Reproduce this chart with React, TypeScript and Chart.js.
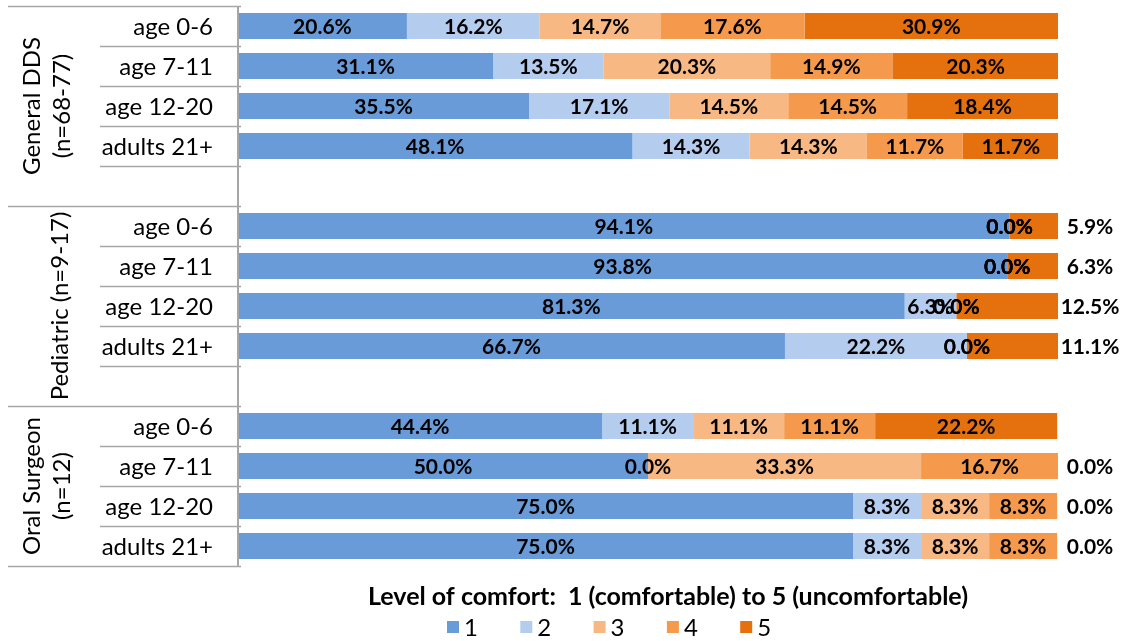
import React, { useEffect, useRef } from "react";
import { Chart, registerables } from "chart.js";

Chart.register(...registerables);

// ---------- data ----------
const categories = [
  "age 0-6", "age 7-11", "age 12-20", "adults 21+", "",
  "age 0-6", "age 7-11", "age 12-20", "adults 21+", "",
  "age 0-6", "age 7-11", "age 12-20", "adults 21+",
];
const groupLabels = [["General DDS", "(n=68-77)"], ["Pediatric (n=9-17)"], ["Oral Surgeon", "(n=12)"]];
const groupSizes = [5, 5, 4];
const seriesNames = ["1", "2", "3", "4", "5"];
const level1 = [20.6, 31.1, 35.5, 48.1, null, 94.1, 93.8, 81.3, 66.7, null, 44.4, 50.0, 75.0, 75.0];
const level2 = [16.2, 13.5, 17.1, 14.3, null, 0.0, 0.0, 6.3, 22.2, null, 11.1, 0.0, 8.3, 8.3];
const level3 = [14.7, 20.3, 14.5, 14.3, null, 0.0, 0.0, 0.0, 0.0, null, 11.1, 33.3, 8.3, 8.3];
const level4 = [17.6, 14.9, 14.5, 11.7, null, 0.0, 0.0, 0.0, 0.0, null, 11.1, 16.7, 8.3, 8.3];
const level5 = [30.9, 20.3, 18.4, 11.7, null, 5.9, 6.3, 12.5, 11.1, null, 22.2, 0.0, 0.0, 0.0];
// rows whose level-5 label sits to the right of the bar
const outsideLabelRows = [5, 6, 7, 8, 11, 12, 13];
const legendTitle = "Level of comfort:  1 (comfortable) to 5 (uncomfortable)";

// ---------- style ----------
const colors = ["#6A9BD9", "#B4CDEE", "#F8B884", "#F59A4C", "#E4700E"];
const FONT = "Lato, 'Noto Sans', sans-serif";
const lineColor = "#A6A6A6";

const valueLabelPlugin = {
  id: "valueLabels",
  afterDatasetsDraw(chart: any) {
    const ctx = chart.ctx;
    const area = chart.chartArea;
    ctx.save();
    ctx.font = `bold 21px ${FONT}`;
    ctx.fillStyle = "#000";
    ctx.textAlign = "center";
    ctx.textBaseline = "middle";
    chart.data.datasets.forEach((ds: any, d: number) => {
      const meta = chart.getDatasetMeta(d);
      meta.data.forEach((el: any, i: number) => {
        const v = ds.data[i];
        if (v === null || v === undefined) return;
        let x = (el.x + el.base) / 2;
        if (d === 4 && outsideLabelRows.includes(i)) x = area.right + 32;
        ctx.fillText(`${v.toFixed(1)}%`, x, el.y + 1);
      });
    });
    ctx.restore();
  },
};

const axisLabelPlugin = {
  id: "axisLabels",
  afterDraw(chart: any) {
    const ctx = chart.ctx;
    const area = chart.chartArea;
    const yScale = chart.scales.y;
    const n = categories.length;
    const step = (area.bottom - area.top) / n;
    ctx.save();
    // sub labels
    ctx.font = `24px ${FONT}`;
    ctx.fillStyle = "#000";
    ctx.textAlign = "right";
    ctx.textBaseline = "middle";
    categories.forEach((c, i) => {
      if (!c) return;
      ctx.fillText(c, area.left - 25, yScale.getPixelForValue(i) + 1);
    });
    // separator lines
    const groupStarts: number[] = [];
    let acc = 0;
    groupSizes.forEach((s) => { groupStarts.push(acc); acc += s; });
    groupStarts.push(acc);
    ctx.strokeStyle = lineColor;
    ctx.lineWidth = 1.5;
    for (let i = 0; i <= n; i++) {
      const y = Math.round(area.top + i * step) + 0.5;
      const x0 = groupStarts.includes(i) ? 8 : 100;
      ctx.beginPath();
      ctx.moveTo(x0, y);
      ctx.lineTo(area.left + 3, y);
      ctx.stroke();
    }
    ctx.lineWidth = 2;
    ctx.beginPath();
    ctx.moveTo(area.left, area.top);
    ctx.lineTo(area.left, area.bottom);
    ctx.stroke();
    // group labels
    ctx.font = `24px ${FONT}`;
    ctx.textAlign = "center";
    groupLabels.forEach((lines, g) => {
      const yMid = area.top + ((groupStarts[g] + groupStarts[g + 1]) / 2) * step;
      const xs = lines.length === 2 ? [31, 61] : [59];
      lines.forEach((t, k) => {
        ctx.save();
        ctx.translate(xs[k], yMid);
        ctx.rotate(-Math.PI / 2);
        ctx.fillText(t, 0, 1);
        ctx.restore();
      });
    });
    // legend
    ctx.font = `bold 25px ${FONT}`;
    ctx.textAlign = "center";
    ctx.fillText(legendTitle, 668, 597);
    ctx.font = `24px ${FONT}`;
    ctx.textAlign = "left";
    chart.data.datasets.forEach((ds: any, d: number) => {
      const x = 447 + d * 73.3;
      ctx.fillStyle = ds.backgroundColor;
      ctx.fillRect(x, 621, 12, 12);
      ctx.fillStyle = "#000";
      ctx.fillText(ds.label, x + 17, 628);
    });
    ctx.restore();
  },
};

export default function App() {
  const ref = useRef<HTMLCanvasElement | null>(null);
  useEffect(() => {
    if (!ref.current) return;
    const series = [level1, level2, level3, level4, level5];
    const chart = new Chart(ref.current, {
      type: "bar",
      data: {
        labels: categories,
        datasets: series.map((s, i) => ({
          label: seriesNames[i],
          data: s,
          backgroundColor: colors[i],
          borderWidth: 0,
          barPercentage: 1,
          categoryPercentage: 0.65,
        })),
      },
      options: {
        indexAxis: "y",
        animation: false,
        responsive: false,
        maintainAspectRatio: false,
        layout: { padding: { left: 238, right: 68, top: 6, bottom: 75 } },
        scales: {
          x: { stacked: true, min: 0, max: 100, display: false },
          y: { stacked: true, display: false },
        },
        plugins: {
          legend: { display: false },
          tooltip: { enabled: false },
        },
      },
      plugins: [valueLabelPlugin, axisLabelPlugin],
    } as any);
    return () => chart.destroy();
  }, []);
  return (
    <div style={{ position: "absolute", left: 0, top: 0, width: 1126, height: 641, background: "#fff" }}>
      <canvas ref={ref} width={1126} height={641} />
    </div>
  );
}
